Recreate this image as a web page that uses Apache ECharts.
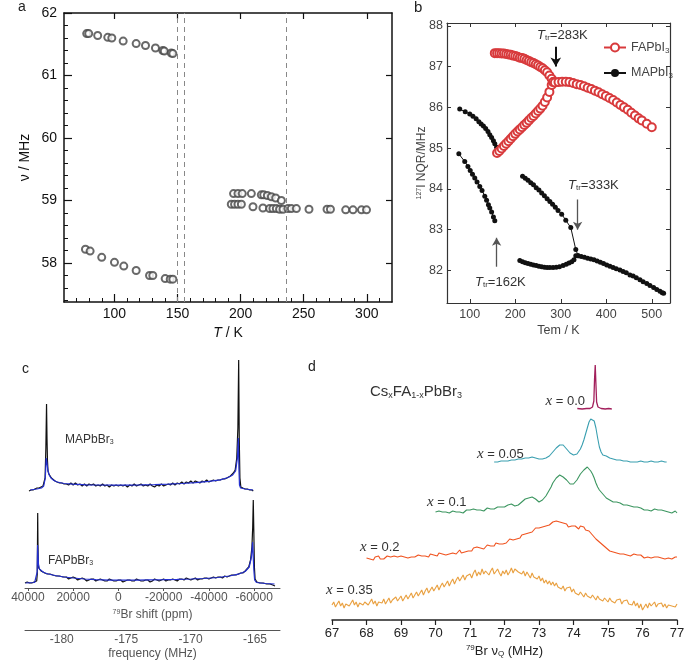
<!DOCTYPE html>
<html><head><meta charset="utf-8">
<script src="https://cdn.jsdelivr.net/npm/echarts@6/dist/echarts.min.js"></script>
<style>html,body{margin:0;padding:0;background:#fff}#c{width:687px;height:667px}</style>
</head><body><div id="c"></div>
<script>
// ---------- Panel a : nu (MHz) vs T (K) ----------
const aXTicks = [100, 150, 200, 250, 300];
const aXMinor = [70, 80, 90, 110, 120, 130, 140, 160, 170, 180, 190, 210, 220, 230, 240, 260, 270, 280, 290, 310];
const aYTicks = [58, 59, 60, 61, 62];
const aYMinor = [57.4, 57.6, 57.8, 58.2, 58.4, 58.6, 58.8, 59.2, 59.4, 59.6, 59.8, 60.2, 60.4, 60.6, 60.8, 61.2, 61.4, 61.6, 61.8];
const aUpperLowT = [[78,61.67],[79.6,61.67],[86.7,61.64],[94.7,61.61],[97.9,61.60],[106.9,61.55],[117.2,61.51],[124.6,61.48],[132.5,61.44],[138.3,61.40],[139.5,61.39],[145,61.36],[146.3,61.35]];
const aLowerLowT = [[77,58.22],[80.7,58.19],[89.9,58.09],[100,58.01],[107.4,57.95],[117.2,57.88],[127.8,57.80],[130.4,57.80],[140.2,57.75],[144.2,57.74],[146.3,57.74]];
const aUpperMidT = [[194.4,59.11],[197.9,59.11],[201.3,59.11],[208.5,59.11],[216.4,59.09],[218.3,59.09],[221.2,59.08],[224.4,59.06],[227.8,59.04],[232.3,59.00]];
const aLowerMidT = [[192.6,58.94],[195.2,58.94],[197.9,58.94],[200.6,58.94],[209.8,58.90],[217.7,58.88],[223,58.87],[225.6,58.87],[228.3,58.87],[230.9,58.86],[233.6,58.86],[237.5,58.87],[240.2,58.87],[244.2,58.87],[254.2,58.86],[268.5,58.86],[271.2,58.86],[283.3,58.85],[289.1,58.85],[295.8,58.85],[299.8,58.85]];
const aTransitions = [150, 155, 236];

// ---------- Panel b : 127I NQR (MHz) vs Tem (K) ----------
const bXTicks = [100, 200, 300, 400, 500];
const bYTicks = [82, 83, 84, 85, 86, 87, 88];
const bFaUpper = [[155,87.33],[160,87.33],[165,87.33],[170,87.32],[175,87.32],[180,87.31],[185,87.30],[190,87.29],[195,87.27],[200,87.26],[205,87.24],[210,87.22],[215,87.21],[220,87.19],[225,87.16],[230,87.14],[235,87.11],[240,87.09],[245,87.06],[250,87.03],[255,86.99],[260,86.96],[265,86.91],[270,86.86],[275,86.78],[280,86.70],[285,86.63]];
const bFaLower = [[160,84.88],[165,84.93],[170,84.99],[175,85.05],[180,85.11],[185,85.17],[190,85.23],[195,85.29],[200,85.35],[205,85.41],[210,85.46],[215,85.51],[220,85.57],[225,85.62],[230,85.68],[235,85.74],[240,85.79],[245,85.85],[250,85.91],[255,85.97],[260,86.04],[265,86.13],[270,86.24],[275,86.38],[280,86.55],[283,86.62]];
const bFaHigh = [[287,86.61],[295,86.62],[303,86.63],[311,86.63],[319,86.62],[327,86.60],[335,86.57],[343,86.55],[351,86.52],[359,86.48],[367,86.45],[375,86.41],[383,86.37],[391,86.32],[399,86.28],[407,86.23],[415,86.18],[423,86.12],[431,86.06],[439,86.00],[447,85.94],[455,85.87],[463,85.80],[471,85.73],[478,85.68],[489,85.60],[500,85.51]];
const bMaA = [[78,85.96],[90,85.89],[100,85.84],[107,85.78],[114,85.72],[120,85.65],[125,85.59],[130,85.54],[135,85.48],[140,85.41],[144,85.33],[148,85.26],[152,85.18],[155,85.11],[159,85.02]];
const bMaB = [[76,84.86],[89,84.67],[96,84.55],[101,84.45],[106,84.36],[111,84.27],[116,84.17],[122,84.06],[127,83.96],[133,83.82],[137,83.72],[141,83.61],[144,83.53],[148,83.43],[152,83.31],[155,83.22]];
const bMaC = [[216,84.31],[222,84.26],[228,84.21],[234,84.15],[240,84.10],[246,84.03],[252,83.97],[258,83.90],[264,83.83],[270,83.76],[276,83.69],[282,83.62],[288,83.55],[294,83.47],[302,83.38],[311,83.23],[322,83.05],[333,82.51],[338,82.36]];
const bMaD = [[210,82.24],[216,82.21],[222,82.19],[228,82.17],[234,82.15],[240,82.13],[246,82.12],[252,82.10],[258,82.09],[264,82.08],[270,82.07],[276,82.07],[283,82.07],[290,82.08],[297,82.09],[305,82.12],[312,82.15],[318,82.18],[324,82.21],[329,82.26],[333,82.36]];
const bMaE = [[338,82.36],[345,82.34],[352,82.32],[359,82.30],[366,82.28],[373,82.26],[380,82.23],[387,82.20],[394,82.17],[401,82.13],[408,82.10],[415,82.07],[422,82.04],[430,82.01],[437,81.97],[444,81.94],[452,81.89],[459,81.86],[466,81.82],[474,81.77],[481,81.72],[489,81.68],[496,81.63],[504,81.58],[511,81.53],[518,81.49],[523,81.45],[526,81.44]];
// transition arrows: [T, from, to]
const bArrows = [[289, 87.49, 87.0], [337, 83.74, 83.0], [159, 82.09, 82.8]];

// ---------- Panel c : 79Br spectra (ppm) ----------
const cPpmTicks = [40000, 20000, 0, -20000, -40000, -60000];
const cFreqTicks = [-180, -175, -170, -165];
const cMapBlack = [[39500,-3],[38600,-2],[37700,-2],[36900,-1],[36000,0],[35100,0],[34200,1],[33300,2],[32800,4],[32400,10],[32050,40],[31750,84],[31550,50],[31350,28],[31100,17],[30700,14],[30200,12],[29600,10],[28900,9],[28000,7],[27100,6],[26000,5],[25000,5],[24000,4],[23000,4],[22000,3],[21000,5],[20000,3],[19000,5],[18000,3],[17000,4],[16000,2],[15000,4],[14000,2],[13000,4],[12000,3],[11000,4],[10000,2],[9000,3],[8000,2],[7000,4],[6000,2],[5000,3],[4000,1],[3000,3],[2000,2],[1000,3],[0,2],[-1000,3],[-2000,2],[-3000,3],[-4000,1],[-5000,3],[-6000,2],[-7000,4],[-8000,2],[-9000,3],[-10000,4],[-11000,2],[-12000,3],[-13000,2],[-14000,4],[-15000,2],[-16000,1],[-17000,3],[-18000,2],[-19000,4],[-20000,2],[-21000,3],[-22000,4],[-23000,3],[-24000,5],[-25000,3],[-26000,5],[-27000,4],[-28000,6],[-29000,4],[-30000,6],[-31000,5],[-32000,7],[-33000,5],[-34000,7],[-35000,6],[-36000,5],[-37000,7],[-38000,6],[-39000,8],[-40000,6],[-41000,7],[-42000,8],[-43000,7],[-44000,8],[-45000,8],[-46000,9],[-47000,9],[-47900,10],[-49500,12],[-50800,15],[-51600,18],[-52300,30],[-52800,60],[-53150,128],[-53400,50],[-53700,10],[-54100,1],[-55000,0],[-56000,-1],[-57000,-1],[-58000,-2],[-59000,-2],[-59600,-3]];
const cMapBlue = [[39000,-2],[36000,-1],[34000,0],[33000,2],[32300,10],[31900,30],[31600,26],[31200,18],[30600,13],[29800,10],[28500,7.5],[27000,6],[24000,4.5],[20000,3.8],[14000,3.2],[8000,3],[2000,2.8],[-4000,2.9],[-10000,3.1],[-16000,3.4],[-22000,3.9],[-28000,4.5],[-34000,5.4],[-40000,6.6],[-45000,8.2],[-48500,10.5],[-50500,13],[-51800,17],[-52600,30],[-53000,50],[-53250,20],[-53500,3],[-54000,0],[-56000,-1],[-59500,-2]];
const cFapBlack = [[41270,-1],[40300,0],[39300,-1],[38300,-1],[37300,0],[36500,0],[36100,1],[35850,8],[35750,40],[35660,69],[35550,40],[35400,20],[35200,14],[34800,12],[34200,11],[33500,10],[32500,9],[31500,8],[30200,8],[29000,7],[27500,6],[26000,6],[24500,5],[23000,5],[22000,3],[21000,4],[20000,5],[19000,4],[18000,2],[17000,3],[16000,4],[15000,3],[14000,1],[13000,2],[12000,3],[11000,3],[10000,1],[9000,2],[8000,3],[7000,2],[6000,1],[5000,1],[4000,3],[3000,2],[2000,1],[1000,1],[0,2],[-1000,2],[-2000,0],[-3000,1],[-4000,2],[-5000,2],[-6000,1],[-7000,1],[-8000,3],[-9000,2],[-10000,1],[-11000,1],[-12000,2],[-13000,2],[-14000,0],[-15000,1],[-16000,3],[-17000,2],[-18000,1],[-19000,2],[-20000,3],[-21000,1],[-22000,2],[-23000,2],[-24000,3],[-25000,2],[-26000,1],[-27000,3],[-28000,3],[-29000,2],[-30000,4],[-31000,3],[-32000,2],[-33000,3],[-34000,4],[-35000,2],[-36000,3],[-37000,3],[-38000,4],[-39000,4],[-40000,3],[-41000,4],[-42000,5],[-43000,4],[-44000,5],[-45000,5],[-46000,4],[-47000,6],[-48000,5],[-49000,6],[-50000,7],[-51000,7],[-52000,7],[-53000,8],[-54000,9],[-55000,9],[-56000,11],[-56700,12],[-57600,15],[-58400,22],[-59000,35],[-59350,55],[-59600,82],[-59850,50],[-60100,15],[-60400,3],[-61200,0],[-62500,-1],[-64000,-1],[-65500,-2],[-67000,-2],[-68200,-3],[-69200,-4]];
const cFapBlue = [[41000,-1],[37000,-0.5],[36200,1],[35900,10],[35700,37],[35550,30],[35300,17],[34900,13],[34200,11],[33000,9.5],[31000,8],[28000,6.5],[24000,5],[20000,4],[15000,3],[10000,2.3],[4000,1.9],[-2000,1.8],[-8000,1.9],[-14000,2.1],[-20000,2.3],[-26000,2.6],[-32000,3],[-38000,3.5],[-44000,4.5],[-49000,6],[-53000,7.8],[-56000,10.5],[-57800,15],[-58800,25],[-59300,40],[-59600,38],[-59850,12],[-60200,2],[-61000,-0.5],[-65000,-1.5],[-69000,-2]];

// ---------- Panel d : CsxFA1-xPbBr3 79Br NQR spectra ----------
const dX000 = [[74.11,0.5],[74.25,0],[74.38,0.5],[74.48,0.5],[74.55,2],[74.59,8],[74.61,30],[74.63,44],[74.65,25],[74.67,7],[74.71,2],[74.80,0.5],[74.92,0],[75.02,0.5],[75.11,0]];
// uniformly sampled spectra: start (MHz), step (MHz), intensities (a.u.)
const dX005Start = 71.70, dX005Step = 0.05;
const dX005 = [0,1,0,1,1,0,1,2,1,1, 2,1,2,2,3,2,3,3,4,3, 4,4,5,4,4,3,3,2,3,3, 4,5,6,8,10,12,14,16,17,18, 17,15,13,11,9,8,7,7,8,10, 13,17,22,28,34,40,43,44,41,34, 24,15,10,7,6,6,5,4,3,3, 2,2,1,2,1,1,0,1,1,0, 1,0,1,0,0,1,0,0,1,0, 0,1,0,0,1,0,0,1,0,0, 0];
const dX010Start = 70.00, dX010Step = 0.05;
const dX010 = [1,0,2,0,1,-1,1,2,0,1, 2,0,1,3,1,2,0,2,3,1, 3,2,4,2,3,5,3,4,2,4, 5,3,4,6,4,5,6,4,6,7, 6,7,8,7,9,8,7,9,8,10, 11,12,14,13,15,16,16,15,14,12, 11,12,13,15,17,20,23,26,30,32, 35,37,38,37,36,35,33,31,29,28, 29,31,33,36,39,41,43,45,46,45, 42,39,35,30,26,23,21,19,17,15, 14,13,12,11,10,11,9,10,8,8, 7,8,6,7,5,6,5,6,4,5, 4,3,5,3,4,2,3,4,2,3, 2,3,1,2,3,1,2,0,1,2, 0];
const dX020Start = 68.00, dX020Step = 0.05;
const dX020 = [0,2,-1,1,-2,1,0,2,-1,1, -1,1,2,0,1,-1,2,0,1,-1, 2,0,1,3,0,2,1,3,1,2, 3,1,2,4,2,3,1,4,2,3, 4,2,5,3,4,6,3,5,4,6, 5,7,4,6,8,5,7,6,8,7, 9,7,10,8,11,9,10,12,9,11, 13,11,12,14,12,15,13,14,16,14, 16,15,17,19,17,18,20,19,21,20, 23,22,24,26,25,27,26,28,30,28, 30,32,31,33,32,34,33,35,36,34, 37,35,36,34,35,33,34,31,33,32, 30,32,31,29,32,30,31,28,30,27, 26,23,22,19,18,16,14,13,11,10, 9,7,8,6,7,5,6,4,5,4, 5,3,4,2,3,4,2,3,1,3, 2,0,2,1,3,0,2,1,-1,1, 2,0,1,-1,1,0,2,-1,0,1, 1];
const dX035Start = 67.00, dX035Step = 0.05;
const dX035 = [0,3,-2,1,4,-1,2,-3,1,3, -1,2,5,0,3,-2,2,4,0,3, 5,0,2,6,1,4,-1,3,5,2, 6,1,4,7,2,5,3,8,4,6, 9,4,7,10,6,8,12,7,10,13, 9,12,15,10,14,17,12,15,18,14, 17,20,15,19,22,18,21,24,19,23, 26,21,25,28,24,27,30,25,29,27, 31,27,32,35,29,33,30,36,31,34, 35,30,34,37,31,33,36,32,29,34, 31,35,30,33,37,32,36,38,33,35, 31,34,29,33,30,27,32,28,30,26, 29,24,27,22,25,21,24,20,23,19, 22,18,20,16,19,14,17,15,18,13, 16,12,14,10,13,11,8,12,9,11, 7,10,8,5,9,6,8,4,7,5, 3,7,4,6,2,5,3,6,1,4, 2,5,1,3,0,4,-1,2,-3,1, -5,-2,1,-3,2,-1,0,3,-2,1, -1,2,-2,1,-3,0,2,-1,1,-2, 1];
const dXTickInterval = 1;

// ---------- helpers ----------
const SANS = "'Liberation Sans', Arial, Helvetica, sans-serif";
const SERIF = "'Liberation Serif', 'Times New Roman', serif";
function sampled(start, step, vals) { return vals.map((v, i) => [+(start + i * step).toFixed(3), v]); }
function richSet(size, color) {
  return {
    sub: {fontSize: Math.round(size * 0.62), color: color, fill: color, fontFamily: SANS, padding: [Math.round(size * 0.45), 0, 0, 0]},
    sup: {fontSize: Math.round(size * 0.62), color: color, fill: color, fontFamily: SANS, padding: [0, 0, Math.round(size * 0.45), 0]},
    i: {fontSize: size, fontStyle: 'italic', color: color, fill: color, fontFamily: SANS},
    si: {fontSize: size + 2, fontStyle: 'italic', color: color, fill: color, fontFamily: SERIF},
    n: {fontSize: size, color: color, fill: color, fontFamily: SANS}
  };
}
function label(x, y, text, size, color, align) {
  return {type: 'text', x: x, y: y, silent: true, z: 100,
    style: {text: text, fontSize: size, fontFamily: SANS, fill: color, align: align || 'left', textAlign: align || 'left',
      verticalAlign: 'middle', textVerticalAlign: 'middle', rich: richSet(size, color)}};
}
function hiddenX(g, min, max, inverse) { return {gridIndex: g, type: 'value', show: false, min: min, max: max, inverse: !!inverse}; }
function hiddenY(g, min, max) { return {gridIndex: g, type: 'value', show: false, min: min, max: max}; }
const noSplit = {show: false};

// ---------- grids ----------
const dLeft = 332, dRight = 10;
const grids = [
  {left: 64, top: 13, width: 328, height: 289},          // 0 a
  {left: 447, top: 23, width: 223, height: 280},         // 1 b
  {left: 25, top: 355, width: 255, height: 138},         // 2 c top
  {left: 25, top: 496, width: 255, height: 92},          // 3 c bottom
  {left: dLeft, right: dRight, top: 360, height: 52},    // 4 d x=0.0
  {left: dLeft, right: dRight, top: 412, height: 55},    // 5 d x=0.05
  {left: dLeft, right: dRight, top: 460, height: 60},    // 6 d x=0.1
  {left: dLeft, right: dRight, top: 515, height: 50},    // 7 d x=0.2
  {left: dLeft, right: dRight, top: 555, height: 65}     // 8 d x=0.35
].map(g => Object.assign({containLabel: false, outerBoundsMode: 'none'}, g));

const aLine = {show: true, onZero: false, lineStyle: {color: '#111', width: 1.5}};
const bLine = {show: true, onZero: false, lineStyle: {color: '#333', width: 1.2}};

const xAxes = [
  // 0..2 panel a
  {gridIndex: 0, type: 'value', position: 'bottom', min: 60, max: 320, axisLine: aLine,
    axisTick: {show: true, inside: true, length: 8, customValues: aXTicks, lineStyle: {color: '#111', width: 1.2}},
    axisLabel: {customValues: aXTicks, fontSize: 14, color: '#111', margin: 5, fontFamily: SANS}, splitLine: noSplit,
    name: '{i|T} / K', nameLocation: 'middle', nameGap: 24, nameMoveOverlap: false,
    nameTextStyle: {fontSize: 14, color: '#111', fontFamily: SANS, rich: richSet(14, '#111')}},
  {gridIndex: 0, type: 'value', position: 'bottom', min: 60, max: 320, axisLine: {show: false},
    axisTick: {show: true, inside: true, length: 4, customValues: aXMinor, lineStyle: {color: '#111', width: 1}},
    axisLabel: {show: false}, splitLine: noSplit},
  {gridIndex: 0, type: 'value', position: 'top', min: 60, max: 320, axisLine: aLine,
    axisTick: {show: true, inside: true, length: 6, customValues: aXTicks, lineStyle: {color: '#111', width: 1.2}},
    axisLabel: {show: false}, splitLine: noSplit},
  // 3..4 panel b
  {gridIndex: 1, type: 'value', position: 'bottom', min: 50, max: 540, axisLine: bLine,
    axisTick: {show: true, inside: true, length: 4, customValues: bXTicks, lineStyle: {color: '#333'}},
    axisLabel: {customValues: bXTicks, fontSize: 12.5, color: '#444', margin: 5, fontFamily: SANS}, splitLine: noSplit,
    name: 'Tem / K', nameLocation: 'middle', nameGap: 21, nameMoveOverlap: false,
    nameTextStyle: {fontSize: 12.5, color: '#444', fontFamily: SANS}},
  {gridIndex: 1, type: 'value', position: 'top', min: 50, max: 540, axisLine: bLine,
    axisTick: {show: true, inside: true, length: 4, customValues: bXTicks, lineStyle: {color: '#333'}},
    axisLabel: {show: false}, splitLine: noSplit},
  // 5..7 panel c
  hiddenX(2, -71410, 41270, true),
  {gridIndex: 3, type: 'value', position: 'bottom', min: -71410, max: 41270, inverse: true,
    axisLine: {show: true, onZero: false, lineStyle: {color: '#555', width: 1}},
    axisTick: {show: true, inside: false, length: 3, customValues: cPpmTicks, lineStyle: {color: '#555'}},
    axisLabel: {customValues: cPpmTicks, fontSize: 12, color: '#555', margin: 4, fontFamily: SANS, formatter: v => String(v)}, splitLine: noSplit,
    name: '{sup|79}Br shift (ppm)', nameLocation: 'middle', nameGap: 21, nameMoveOverlap: false,
    nameTextStyle: {fontSize: 12, color: '#555', fontFamily: SANS, rich: richSet(12, '#555')}},
  {gridIndex: 3, type: 'value', position: 'bottom', offset: 42, min: -182.85, max: -163.06,
    axisLine: {show: true, onZero: false, lineStyle: {color: '#555', width: 1}},
    axisTick: {show: false},
    axisLabel: {customValues: cFreqTicks, fontSize: 12, color: '#555', margin: 4, fontFamily: SANS, formatter: v => String(v)}, splitLine: noSplit,
    name: 'frequency (MHz)', nameLocation: 'middle', nameGap: 18, nameMoveOverlap: false,
    nameTextStyle: {fontSize: 12, color: '#555', fontFamily: SANS}},
  // 8..12 panel d
  hiddenX(4, 67, 77), hiddenX(5, 67, 77), hiddenX(6, 67, 77), hiddenX(7, 67, 77),
  {gridIndex: 8, type: 'value', position: 'bottom', min: 67, max: 77, interval: dXTickInterval,
    axisLine: {show: true, onZero: false, lineStyle: {color: '#222', width: 1.5}},
    axisTick: {show: true, inside: false, length: 5, lineStyle: {color: '#222', width: 1.2}},
    axisLabel: {fontSize: 13, color: '#222', margin: 7, fontFamily: SANS}, splitLine: noSplit,
    name: '{sup|79}Br ν{sub|Q} (MHz)', nameLocation: 'middle', nameGap: 24, nameMoveOverlap: false,
    nameTextStyle: {fontSize: 13, color: '#222', fontFamily: SANS, rich: richSet(13, '#222')}}
];

const yAxes = [
  // 0..2 panel a
  {gridIndex: 0, type: 'value', position: 'left', min: 57.375, max: 62, axisLine: aLine,
    axisTick: {show: true, inside: true, length: 8, customValues: aYTicks, lineStyle: {color: '#111', width: 1.2}},
    axisLabel: {customValues: aYTicks, fontSize: 14, color: '#111', margin: 7, fontFamily: SANS}, splitLine: noSplit,
    name: 'ν / MHz', nameLocation: 'middle', nameGap: 32, nameRotate: 90, nameMoveOverlap: false,
    nameTextStyle: {fontSize: 14, color: '#111', fontFamily: SANS}},
  {gridIndex: 0, type: 'value', position: 'left', min: 57.375, max: 62, axisLine: {show: false},
    axisTick: {show: true, inside: true, length: 4, customValues: aYMinor, lineStyle: {color: '#111', width: 1}},
    axisLabel: {show: false}, splitLine: noSplit},
  {gridIndex: 0, type: 'value', position: 'right', min: 57.375, max: 62, axisLine: aLine,
    axisTick: {show: true, inside: true, length: 6, customValues: [58, 59, 60, 61], lineStyle: {color: '#111', width: 1.2}},
    axisLabel: {show: false}, splitLine: noSplit},
  // 3..4 panel b
  {gridIndex: 1, type: 'value', position: 'left', min: 81.2, max: 88.07, axisLine: bLine,
    axisTick: {show: true, inside: true, length: 4, customValues: bYTicks, lineStyle: {color: '#333'}},
    axisLabel: {customValues: bYTicks, fontSize: 12.5, color: '#444', margin: 4, fontFamily: SANS}, splitLine: noSplit,
    name: '{sup|127}I NQR/MHz', nameLocation: 'middle', nameGap: 19, nameRotate: 90, nameMoveOverlap: false,
    nameTextStyle: {fontSize: 12, color: '#444', fontFamily: SANS, rich: richSet(12, '#444')}},
  {gridIndex: 1, type: 'value', position: 'right', min: 81.2, max: 88.07, axisLine: bLine,
    axisTick: {show: true, inside: true, length: 4, customValues: bYTicks, lineStyle: {color: '#333'}},
    axisLabel: {show: false}, splitLine: noSplit},
  // 5..6 panel c
  hiddenY(2, -5, 133), hiddenY(3, -6, 86),
  // 7..11 panel d
  hiddenY(4, -3, 49), hiddenY(5, -5, 50), hiddenY(6, -7, 53), hiddenY(7, -7, 43), hiddenY(8, -15, 50)
];

// ---------- series ----------
function aScatter(data) {
  return {type: 'scatter', xAxisIndex: 0, yAxisIndex: 0, data: data, symbol: 'emptyCircle', symbolSize: 7,
    itemStyle: {color: '#444', borderColor: '#444', borderWidth: 0.9}, silent: true};
}
const FA_RED = '#d83a3c';
function bFa(data) {
  return {type: 'line', name: 'FAPbI3', xAxisIndex: 3, yAxisIndex: 3, data: data, symbol: 'emptyCircle', symbolSize: 8,
    showAllSymbol: true, lineStyle: {color: FA_RED, width: 1}, itemStyle: {color: FA_RED, borderColor: FA_RED, borderWidth: 1}, silent: true, z: 3};
}
function bMa(data) {
  return {type: 'line', name: 'MAPbI3', xAxisIndex: 3, yAxisIndex: 3, data: data, symbol: 'circle', symbolSize: 5,
    showAllSymbol: true, lineStyle: {color: '#111', width: 1}, itemStyle: {color: '#111'}, silent: true, z: 2};
}
function spec(data, xi, yi, color, width, z) {
  return {type: 'line', xAxisIndex: xi, yAxisIndex: yi, data: data, symbol: 'none', showSymbol: false,
    lineStyle: {color: color, width: width}, silent: true, z: z || 2, clip: false};
}

const series = [
  aScatter(aUpperLowT), aScatter(aLowerLowT), aScatter(aUpperMidT), aScatter(aLowerMidT),
  {type: 'line', xAxisIndex: 0, yAxisIndex: 0, data: [], silent: true,
    markLine: {silent: true, symbol: ['none', 'none'], label: {show: false},
      lineStyle: {type: [5, 4], color: '#888', width: 1}, data: aTransitions.map(v => ({xAxis: v}))}},
  bFa(bFaUpper), bFa(bFaLower), bFa(bFaHigh),
  bMa(bMaA), bMa(bMaB), bMa(bMaC), bMa(bMaD), bMa(bMaE),
  {type: 'line', xAxisIndex: 3, yAxisIndex: 3, data: [], silent: true,
    markLine: {silent: true, label: {show: false},
      data: bArrows.map((a, i) => [
        {coord: [a[0], a[1]], symbol: 'none', lineStyle: {color: i === 0 ? '#111' : '#555', width: i === 0 ? 2 : 1.3, type: 'solid'}},
        {coord: [a[0], a[2]], symbol: 'arrow', symbolSize: i === 0 ? [8, 9] : [7, 8]}
      ])}},
  spec(cMapBlack, 5, 5, '#111', 1.2, 2), spec(cMapBlue, 5, 5, '#2430d0', 1.2, 3),
  spec(cFapBlack, 6, 6, '#111', 1.2, 2), spec(cFapBlue, 6, 6, '#2430d0', 1.2, 3),
  spec(dX000, 8, 7, '#a3205c', 1.3),
  spec(sampled(dX005Start, dX005Step, dX005), 9, 8, '#3a9fb0', 1.1),
  spec(sampled(dX010Start, dX010Step, dX010), 10, 9, '#3c9660', 1.1),
  spec(sampled(dX020Start, dX020Step, dX020), 11, 10, '#f0531f', 1.1),
  spec(sampled(dX035Start, dX035Step, dX035), 12, 11, '#e9a040', 1.1)
];

const graphics = [
  label(18, 7, 'a', 14, '#222'),
  label(414, 8, 'b', 15, '#222'),
  label(22, 369, 'c', 14, '#222'),
  label(308, 367, 'd', 14, '#222'),
  label(537, 35, '{i|T}{sub|tr}=283K', 13, '#333'),
  label(568, 185, '{i|T}{sub|tr}=333K', 13, '#333'),
  label(475, 282, '{i|T}{sub|tr}=162K', 13, '#333'),
  label(65, 440, 'MAPbBr{sub|3}', 12, '#333'),
  label(48, 561, 'FAPbBr{sub|3}', 12, '#333'),
  label(370, 392, 'Cs{sub|x}FA{sub|1-x}PbBr{sub|3}', 15, '#333'),
  label(585, 401, '{si|x} = 0.0', 13, '#333', 'right'),
  label(477, 454, '{si|x} = 0.05', 13, '#333'),
  label(427, 502, '{si|x} = 0.1', 13, '#333'),
  label(360, 547, '{si|x} = 0.2', 13, '#333'),
  label(326, 590, '{si|x} = 0.35', 13, '#333')
];

const option = {
  animation: false,
  backgroundColor: '#ffffff',
  textStyle: {fontFamily: SANS},
  grid: grids,
  xAxis: xAxes,
  yAxis: yAxes,
  legend: {data: ['FAPbI3', 'MAPbI3'], orient: 'vertical', left: 598, top: 36, itemWidth: 22, itemHeight: 10, itemGap: 12,
    selectedMode: false, formatter: n => n.replace('3', '{sub|3}'),
    textStyle: {fontSize: 12.5, color: '#444', fontFamily: SANS, rich: richSet(12.5, '#444')}},
  graphic: graphics,
  series: series
};
const chart = echarts.init(document.getElementById('c'), null, {renderer: 'canvas'});
chart.setOption(option);
</script></body></html>
